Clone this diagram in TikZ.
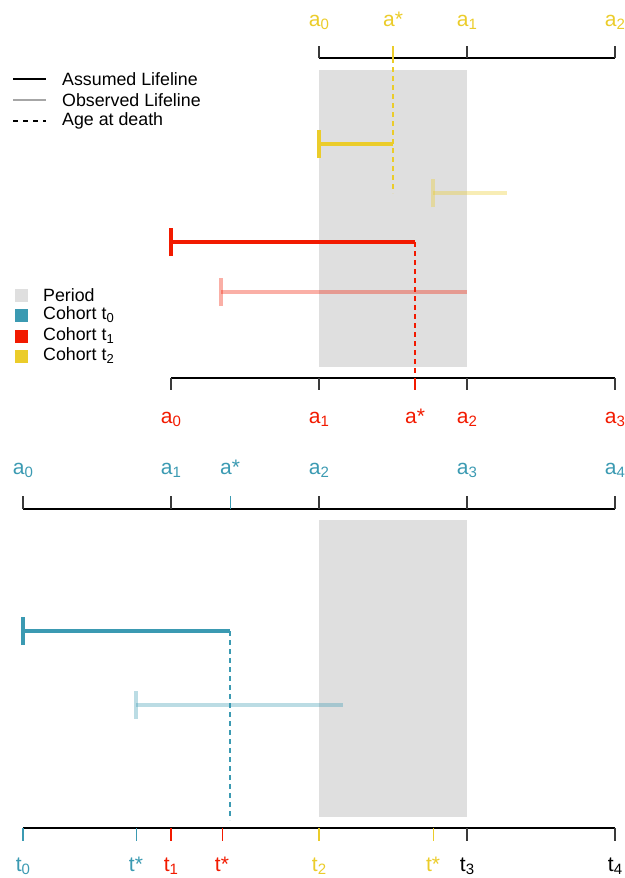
\documentclass[tikz,border=0pt]{standalone}
\usepackage{fontspec}
\setmainfont{Liberation Sans}
\definecolor{cblue}{HTML}{3B9AB2}
\definecolor{cred}{HTML}{F21A00}
\definecolor{cyel}{HTML}{EBCC2A}
\definecolor{period}{HTML}{DFDFDF}
\definecolor{axisgray}{HTML}{3A3A3A}
\newcommand\sbs[1]{\raisebox{-0.32ex}{\fontsize{15}{15}\selectfont #1}}
\newcommand\lsbs[1]{\raisebox{-0.32ex}{\fontsize{13}{13}\selectfont #1}}
\begin{document}
\begin{tikzpicture}[x=1pt,y=-1pt,
  axisline/.style={line width=1.4pt, draw=black},
  axtick/.style={line width=1.4pt, draw=axisgray},
  life/.style={line width=3.2pt},
  obs/.style={line width=3.2pt, draw opacity=0.35},
  death/.style={line width=1.2pt, dash pattern=on 5pt off 4pt},
  lbl/.style={font=\fontsize{21}{21}\selectfont, inner sep=0, anchor=base},
  leg/.style={font=\fontsize{17.8}{18}\selectfont, inner sep=0, anchor=west},
  legsq/.style={minimum size=13pt, inner sep=0}]
\useasboundingbox (0,0) rectangle (624,878);

% ---------- period shading ----------
\fill[period] (319,70) rectangle (467,367);
\fill[period] (319,520) rectangle (467,817);

% ---------- legend ----------
\coordinate (l1a) at (13,79);  \coordinate (l1b) at (46,79);
\coordinate (l2a) at (13,100); \coordinate (l2b) at (46,100);
\coordinate (l3a) at (13,121); \coordinate (l3b) at (46,121);
\draw[line width=2.8pt, black] (l1a) -- (l1b);
\draw[line width=2.8pt, black!35] (l2a) -- (l2b);
\draw[line width=1.2pt, black, dash pattern=on 5pt off 5pt] (l3a) -- (l3b);
\node[leg] (lt1) at (62,79) {Assumed Lifeline};
\node[leg] (lt2) at (62,100) {Observed Lifeline};
\node[leg] (lt3) at (62,121) {Age at death};

\node[legsq, fill=period] (s1) at (21,295) {};
\node[legsq, fill=cblue]  (s2) at (21,315) {};
\node[legsq, fill=cred]   (s3) at (21,336) {};
\node[legsq, fill=cyel]   (s4) at (21,356) {};
\node[leg] (st1) at (43,295) {Period};
\node[leg] (st2) at (43,315) {Cohort t\lsbs{0}};
\node[leg] (st3) at (43,336) {Cohort t\lsbs{1}};
\node[leg] (st4) at (43,356) {Cohort t\lsbs{2}};

% ---------- top age axis (cohort t2) ----------
\coordinate (ta0) at (319,58); \coordinate (ta1) at (467,58);
\coordinate (ta2) at (615,58); \coordinate (tas) at (393,58);
\draw[axisline] (ta0) -- (ta2);
\foreach \c in {ta0,ta1,ta2} \draw[axtick] (\c) -- ++(0,-12);
\draw[line width=1.3pt, cyel] (tas) -- ++(0,-12);
\node[lbl, cyel] (tla0) at (319,26) {a\sbs{0}};
\node[lbl, cyel] (tlas) at (393,26) {a*};
\node[lbl, cyel] (tla1) at (467,26) {a\sbs{1}};
\node[lbl, cyel] (tla2) at (615,26) {a\sbs{2}};

% cohort t2 lifelines
\coordinate (y1s) at (319,144); \coordinate (y1e) at (393,144);
\draw[life, cyel] (y1s) -- (y1e);
\draw[life, cyel] ([yshift=-14pt]y1s) -- ([yshift=14pt]y1s);
\coordinate (y2s) at (433,193); \coordinate (y2e) at (507,193);
\draw[obs, cyel] (y2s) -- (y2e);
\draw[obs, cyel] ([yshift=-14pt]y2s) -- ([yshift=14pt]y2s);
\coordinate (yd) at (393,193);
\draw[death, cyel] (tas) -- (yd);

% cohort t1 lifelines
\coordinate (r1s) at (171,242); \coordinate (r1e) at (415,242);
\draw[life, cred] (r1s) -- (r1e);
\draw[life, cred] ([yshift=-14pt]r1s) -- ([yshift=14pt]r1s);
\coordinate (r2s) at (221,292); \coordinate (r2e) at (467,292);
\draw[obs, cred] (r2s) -- (r2e);
\draw[obs, cred] ([yshift=-14pt]r2s) -- ([yshift=14pt]r2s);

% ---------- middle age axis (cohort t1) ----------
\coordinate (ma0) at (171,378); \coordinate (ma1) at (319,378);
\coordinate (ma2) at (467,378); \coordinate (ma3) at (615,378);
\coordinate (mas) at (415,378);
\draw[death, cred] (r1e) -- (mas);
\draw[axisline] (ma0) -- (ma3);
\foreach \c in {ma0,ma1,ma2,ma3} \draw[axtick] (\c) -- ++(0,12);
\draw[line width=1.3pt, cred] (mas) -- ++(0,12);
\node[lbl, cred] (mla0) at (171,423) {a\sbs{0}};
\node[lbl, cred] (mla1) at (319,423) {a\sbs{1}};
\node[lbl, cred] (mlas) at (415,423) {a*};
\node[lbl, cred] (mla2) at (467,423) {a\sbs{2}};
\node[lbl, cred] (mla3) at (615,423) {a\sbs{3}};

% ---------- lower age axis (cohort t0) ----------
\coordinate (ba0) at (23,509); \coordinate (ba1) at (171,509);
\coordinate (ba2) at (319,509); \coordinate (ba3) at (467,509);
\coordinate (ba4) at (615,509); \coordinate (bas) at (230,509);
\draw[axisline] (ba0) -- (ba4);
\foreach \c in {ba0,ba1,ba2,ba3,ba4} \draw[axtick] (\c) -- ++(0,-13);
\draw[line width=1pt, cblue] (bas) -- ++(0,-13);
\node[lbl, cblue] (bla0) at (23,474) {a\sbs{0}};
\node[lbl, cblue] (bla1) at (171,474) {a\sbs{1}};
\node[lbl, cblue] (blas) at (230,474) {a*};
\node[lbl, cblue] (bla2) at (319,474) {a\sbs{2}};
\node[lbl, cblue] (bla3) at (467,474) {a\sbs{3}};
\node[lbl, cblue] (bla4) at (615,474) {a\sbs{4}};

% cohort t0 lifelines
\coordinate (b1s) at (23,631); \coordinate (b1e) at (230,631);
\draw[life, cblue] (b1s) -- (b1e);
\draw[life, cblue] ([yshift=-14pt]b1s) -- ([yshift=14pt]b1s);
\coordinate (b2s) at (136,705); \coordinate (b2e) at (343,705);
\draw[obs, cblue] (b2s) -- (b2e);
\draw[obs, cblue] ([yshift=-14pt]b2s) -- ([yshift=14pt]b2s);
\coordinate (bd) at (230,820);
\draw[death, cblue] (b1e) -- (bd);

% ---------- calendar time axis ----------
\coordinate (t0) at (23,828);  \coordinate (tb) at (136,828);
\coordinate (t1) at (171,828); \coordinate (tr) at (222,828);
\coordinate (t2) at (319,828); \coordinate (ty) at (433,828);
\coordinate (t3) at (467,828); \coordinate (t4) at (615,828);
\draw[axisline] (t0) -- (t4);
\draw[line width=1.3pt, cblue] (t0) -- ++(0,13);
\draw[line width=1pt, cblue] (tb) -- ++(0,13);
\draw[line width=1.3pt, cred] (t1) -- ++(0,13);
\draw[line width=1pt, cred] (tr) -- ++(0,13);
\draw[line width=1.3pt, cyel] (t2) -- ++(0,13);
\draw[line width=1pt, cyel] (ty) -- ++(0,13);
\draw[axtick] (t3) -- ++(0,13);
\draw[axtick] (t4) -- ++(0,13);
\node[lbl, cblue] (lt0) at (23,871) {t\sbs{0}};
\node[lbl, cblue] (ltb) at (136,871) {t*};
\node[lbl, cred] (lt1x) at (171,871) {t\sbs{1}};
\node[lbl, cred] (ltr) at (222,871) {t*};
\node[lbl, cyel] (lt2x) at (319,871) {t\sbs{2}};
\node[lbl, cyel] (lty) at (433,871) {t*};
\node[lbl, black] (lt3x) at (467,871) {t\sbs{3}};
\node[lbl, black] (lt4) at (615,871) {t\sbs{4}};
\end{tikzpicture}
\end{document}
